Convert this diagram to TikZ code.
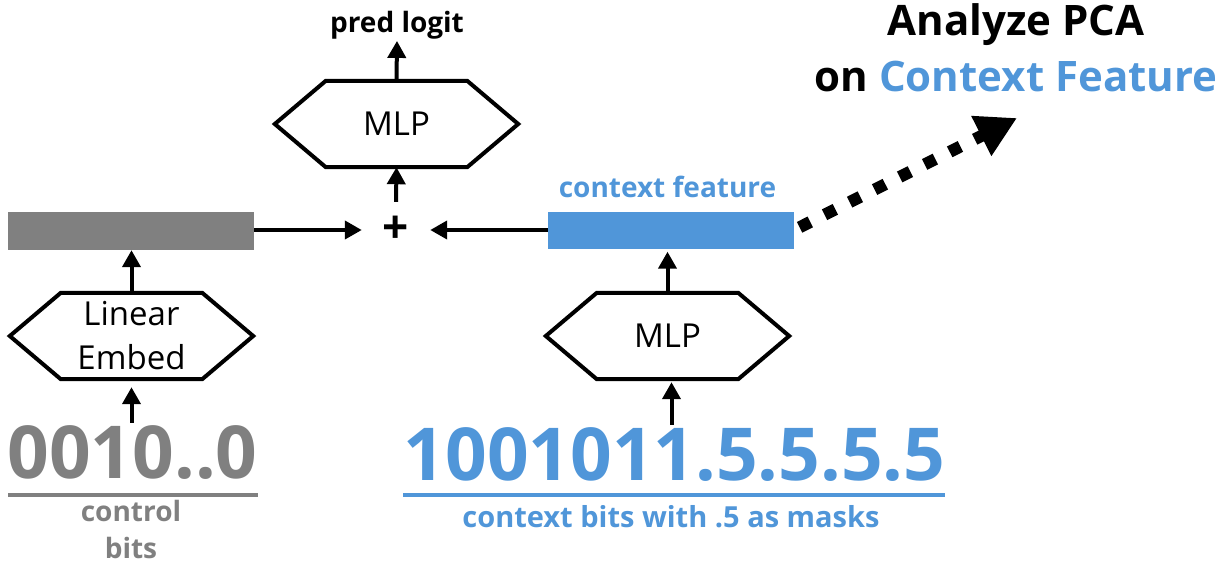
\documentclass[tikz,border=0pt]{standalone}
\usepackage{fontspec}
\setmainfont{Open Sans}
\usetikzlibrary{arrows.meta,calc}
\definecolor{ctxblue}{RGB}{80,150,217}
\definecolor{ctlgray}{RGB}{128,128,128}
\newcommand\hexoutline[1]{\draw[hexline] (#1.west) -- ([xshift=51pt]#1.north west) -- ([xshift=-51pt]#1.north east) -- (#1.east) -- ([xshift=-51pt]#1.south east) -- ([xshift=51pt]#1.south west) -- cycle;}
\begin{document}
\begin{tikzpicture}[x=1pt,y=-1pt,
  conn/.style={line width=4pt,-{Triangle[length=17pt,width=18pt]}},
  hexbox/.style={rectangle,minimum width=243pt,minimum height=86pt,inner sep=0pt,align=center,font=\fontsize{33}{44}\selectfont},
  hexline/.style={line width=4pt,line join=miter},
  featbar/.style={rectangle,minimum width=246pt,minimum height=38pt,inner sep=0pt},
  bignum/.style={anchor=base,inner sep=2pt,font=\bfseries\fontsize{73}{73}\selectfont},
  smalllab/.style={inner sep=2pt,align=center,font=\bfseries\fontsize{28}{37}\selectfont},
  underl/.style={line width=4pt},
  dotarrow/.style={line width=12pt,dash pattern=on 12pt off 16pt,-{Triangle[length=40pt,width=42pt]}}
]
\useasboundingbox (0,0) rectangle (1223,565);

% bars
\node[featbar,fill=ctlgray] (ctlbar) at (131,231) {};
\node[featbar,fill=ctxblue,minimum height=37pt] (ctxbar) at (671,230) {};
\node[smalllab,anchor=base,text=ctxblue] (ctxlab) at (667.5,197) {context feature};

% plus
\node[inner sep=0pt,minimum width=68pt,minimum height=56pt,font=\bfseries\fontsize{46}{46}\selectfont] (plus) at (396,230) {+};

% hexagons
\node[hexbox] (mlptop) at (396.5,124) {MLP};
\hexoutline{mlptop}
\node[hexbox] (embed) at (131.5,336) {Linear\\Embed};
\hexoutline{embed}
\node[hexbox] (mlpctx) at (667.5,336) {MLP};
\hexoutline{mlpctx}

% output label
\node[smalllab,anchor=base] (pred) at (397,32) {pred logit};

% inputs
\node[bignum,text=ctlgray] (ctlbits) at (132.5,478) {0010..0};
\draw[underl,ctlgray] (8,495) -- (258,495);
\node[smalllab,text=ctlgray,anchor=center] (ctllab) at (131,529) {control\\bits};

\node[bignum,text=ctxblue] (ctxbits) at (674.5,480) {1001011.5.5.5.5};
\draw[underl,ctxblue] (403,494.5) -- (945,494.5);
\node[smalllab,anchor=base,text=ctxblue,font=\bfseries\fontsize{29}{37}\selectfont] (ctxbitlab) at (671,527) {context bits with .5 as masks};

% PCA title
\node[align=center,inner sep=0pt,font=\bfseries\fontsize{42}{56}\selectfont] (pca) at (1016,48) {Analyze PCA\\on \textcolor{ctxblue}{Context Feature}};
\coordinate (pcatip) at (1017,118);

% connectors
\draw[conn] (ctlbar.east |- plus.west) -- (plus.west);
\draw[conn] (ctxbar.west |- plus.east) -- (plus.east);
\draw[conn] (plus.north) -- (mlptop.south);
\draw[conn] (mlptop.north) -- (pred.south);
\draw[conn] (embed.north) -- (embed.north |- ctlbar.south);
\draw[conn,shorten >=8pt] (embed.south |- ctlbits.north) -- (embed.south);
\draw[conn] (mlpctx.north) -- ([yshift=-3pt]mlpctx.north |- ctxbar.south);
\draw[conn,shorten >=3pt] ([xshift=4pt]mlpctx.south |- ctxbits.north) -- ([xshift=4pt]mlpctx.south);
\draw[dotarrow,shorten <=6pt] (ctxbar.east) -- (pcatip);
\end{tikzpicture}
\end{document}
